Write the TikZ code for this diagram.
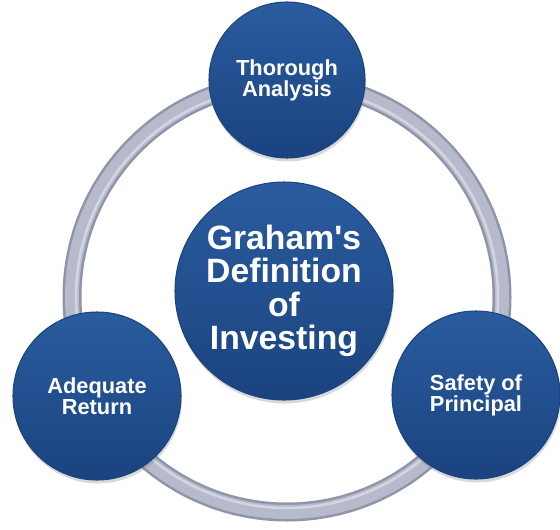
\documentclass[tikz,border=0pt]{standalone}
\usepackage{fontspec}
\setmainfont{Liberation Sans}
\usetikzlibrary{shadows}

\definecolor{discblue}{HTML}{1F4E8F}
\definecolor{disctop}{HTML}{2A5C9F}
\definecolor{discbottom}{HTML}{1A437F}
\definecolor{ringedge}{HTML}{9094A8}
\definecolor{ringmid}{HTML}{B7BACB}
\definecolor{ringlight}{HTML}{D3D6E2}

\tikzset{
  disc/.style={circle, inner sep=0pt, align=center, text=white,
    top color=disctop, bottom color=discbottom, draw=discbottom, line width=0.6pt,
    drop shadow={shadow xshift=0.5pt, shadow yshift=-2pt, opacity=0.3},
    font=\bfseries\fontsize{12.4}{12}\selectfont},
  bigdisc/.style={disc, font=\bfseries\fontsize{19.2}{19}\selectfont}
}

\begin{document}
\begin{tikzpicture}
\useasboundingbox (0,0) rectangle (11.2,10.58);

% the ring behind the discs
\draw[ringedge, line width=0.38cm] (5.74,4.64) circle (4.30cm);
\draw[ringmid, line width=0.28cm] (5.74,4.64) circle (4.30cm);
\draw[ringlight, line width=0.05cm] (5.74,4.64) circle (4.22cm);

\node[bigdisc, minimum size=4.36cm] (graham) at (5.68,4.76) {Graham\textquotesingle s\\Definition\\of\\Investing};
\node[disc, minimum size=3.12cm] (thorough) at (5.74,8.98) {Thorough\\Analysis};
\node[disc, minimum size=3.36cm] (adequate) at (1.94,2.66) {Adequate\\Return};
\node[disc, minimum size=3.36cm] (safety) at (9.52,2.68) {Safety of\\Principal};
\end{tikzpicture}
\end{document}
